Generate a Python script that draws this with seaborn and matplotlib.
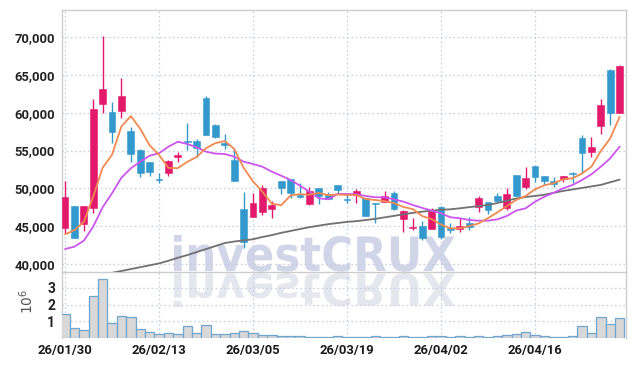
import numpy as np
import pandas as pd
import matplotlib
matplotlib.use("Agg")
import matplotlib.pyplot as plt
import seaborn as sns
from matplotlib.textpath import TextPath
from matplotlib.patches import PathPatch
from matplotlib.font_manager import FontProperties
from matplotlib.transforms import Affine2D, IdentityTransform
from matplotlib.ticker import FuncFormatter

# ---------------- data ----------------
dates = ["26/01/30",
         "26/02/02", "26/02/03", "26/02/04", "26/02/05", "26/02/06",
         "26/02/09", "26/02/10", "26/02/11", "26/02/12", "26/02/13",
         "26/02/19", "26/02/20", "26/02/23", "26/02/24", "26/02/25",
         "26/02/26", "26/02/27", "26/03/03", "26/03/04", "26/03/05",
         "26/03/06", "26/03/09", "26/03/10", "26/03/11", "26/03/12",
         "26/03/13", "26/03/16", "26/03/17", "26/03/18", "26/03/19",
         "26/03/20", "26/03/23", "26/03/24", "26/03/25", "26/03/26",
         "26/03/27", "26/03/30", "26/03/31", "26/04/01", "26/04/02",
         "26/04/03", "26/04/06", "26/04/07", "26/04/08", "26/04/09",
         "26/04/10", "26/04/13", "26/04/14", "26/04/15", "26/04/16",
         "26/04/17", "26/04/20", "26/04/21", "26/04/22", "26/04/23",
         "26/04/24", "26/04/27", "26/04/28", "26/04/29"]

open_ = [44700, 47660, 45230, 47430, 61170, 60070, 60280, 57590, 55070, 53440,
         51300, 51990, 54200, 56300, 56270, 61960, 58380, 56000, 53750, 47260,
         46240, 46900, 47220, 50970, 51230, 49150, 47960, 50000, 49210, 50440,
         48600, 49070, 48680, 48050, 48230, 49340, 45890, 44850, 45010, 44650,
         47480, 44780, 44570, 45440, 47560, 48230, 48980, 47350, 51760, 50210,
         52950, 51630, 50970, 51190, 52030, 56620, 54850, 58290, 65670, 60010]
high = [50970, 47700, 47700, 61790, 70170, 61390, 64570, 58120, 55250, 53440,
        51990, 53700, 54850, 58690, 56490, 62190, 58470, 57150, 55380, 49470,
        49420, 50440, 48360, 50970, 51230, 50700, 50210, 50000, 49550, 50440,
        49420, 49950, 48680, 48100, 49680, 49640, 47130, 46030, 45670, 47350,
        47660, 45360, 46110, 46240, 48980, 48230, 49420, 50080, 51760, 52780,
        52950, 51630, 51540, 51630, 52160, 57100, 56840, 61870, 65760, 66290]
low = [44080, 43380, 44400, 46690, 59930, 55960, 59270, 53440, 51460, 51630,
       50740, 51670, 53520, 55070, 54190, 57060, 56620, 55210, 51010, 42050,
       46240, 46460, 46070, 49210, 48680, 48720, 47750, 47920, 48580, 49420,
       48010, 48010, 46330, 45360, 48230, 47130, 44250, 44480, 43150, 44650,
       43250, 44040, 44170, 44480, 46820, 46600, 48280, 47130, 48980, 49870,
       50870, 50440, 50210, 50830, 50740, 52070, 54150, 57190, 58340, 60010]
close = [48890, 43460, 47660, 60460, 63110, 57500, 62230, 54540, 52070, 52120,
         51200, 53580, 54400, 56200, 55380, 57060, 56840, 55800, 51010, 42850,
         48090, 50000, 47790, 50080, 49340, 48890, 49640, 49020, 48580, 49780,
         48540, 49600, 46330, 48010, 49020, 47220, 46990, 44980, 43380, 47050,
         43590, 44480, 45010, 44920, 48720, 47130, 48280, 49210, 48980, 51330,
         51540, 50970, 50610, 51590, 51930, 54720, 55470, 60990, 59930, 66200]

ma_short = [43900, 44450, 45550, 48900, 52720, 54440, 58190, 59570, 57890, 55690,
            54430, 52700, 52670, 53500, 54150, 55320, 55980, 56260, 55220, 52710,
            50920, 49550, 47950, 47760, 49060, 49220, 49150, 49390, 49090, 49180,
            49110, 49110, 48570, 48450, 48300, 48040, 47520, 47250, 46320, 45920,
            45200, 44690, 44700, 45010, 45340, 46050, 46810, 47650, 48460, 48980,
            49870, 50400, 50680, 51210, 51330, 51960, 52860, 54940, 56610, 59460]
ma_mid = [41960, 42270, 43060, 44920, 47480, 49340, 51400, 52650, 53520, 54320,
          54640, 55510, 56170, 55870, 55430, 54850, 54600, 54540, 54190, 53520,
          53220, 52860, 52200, 51670, 51100, 50340, 49550, 48680, 48540, 49250,
          49250, 49210, 48980, 48810, 48810, 48540, 48230, 47790, 47400, 47050,
          46690, 46160, 46030, 45800, 45710, 45710, 45890, 46330, 47050, 47350,
          48230, 48890, 49420, 50000, 50440, 51100, 51860, 52860, 53970, 55510]
ma_long = [np.nan] * 5 + [
          38800, 39050, 39300, 39550, 39800, 40050, 40400, 40800, 41150, 41550,
          41950, 42350, 42750, 42950, 43100, 43250, 43550, 43800, 44100, 44350,
          44600, 44850, 45050, 45250, 45400, 45550, 45650, 45800, 45950, 46150,
          46350, 46550, 46750, 46900, 47050, 47150, 47220, 47350, 47500, 47650,
          47780, 48050, 48350, 48650, 48850, 48980, 49150, 49400, 49650, 49850,
          50050, 50250, 50450, 50800, 51150]

volume_m = [1.44, 0.58, 0.48, 2.51, 3.53, 0.90, 1.32, 1.23, 0.52, 0.36,
            0.24, 0.30, 0.24, 0.72, 0.30, 0.78, 0.24, 0.24, 0.30, 0.42,
            0.30, 0.18, 0.18, 0.12, 0.12, 0.12, 0.08, 0.06, 0.06, 0.12,
            0.06, 0.06, 0.06, 0.12, 0.06, 0.06, 0.12, 0.06, 0.06, 0.10,
            0.12, 0.06, 0.12, 0.06, 0.12, 0.08, 0.12, 0.18, 0.24, 0.36,
            0.18, 0.12, 0.06, 0.06, 0.12, 0.72, 0.30, 1.23, 0.86, 1.20]

price_ticks = [40000, 45000, 50000, 55000, 60000, 65000, 70000]
volume_ticks = [1, 2, 3]
label_every = 10

n = len(dates)
for arr in (open_, high, low, close, ma_short, ma_mid, ma_long, volume_m):
    assert len(arr) == n

df = pd.DataFrame({"idx": np.arange(n), "date": dates, "open": open_, "high": high,
                   "low": low, "close": close, "ma_s": ma_short, "ma_m": ma_mid,
                   "ma_l": ma_long, "vol": volume_m})

# ---------------- style ----------------
sns.set_style("white")
TICK_FONT = ["Roboto", "DejaVu Sans"]
plt.rcParams["font.family"] = TICK_FONT

UP = "#e3196b"
DOWN = "#3399cc"
GRID = "#c7cbe0"
FRAME = "#cccccc"
TICK_SIZE = 9.4

W, H = 634, 366
fig = plt.figure(figsize=(W / 100, H / 100), dpi=100)
fig.patch.set_facecolor("white")

L, R = 62, 626
P_TOP, P_BOT = 9.5, 272
V_BOT = 338
axp = fig.add_axes([L / W, 1 - P_BOT / H, (R - L) / W, (P_BOT - P_TOP) / H])
axv = fig.add_axes([L / W, 1 - V_BOT / H, (R - L) / W, (V_BOT - P_BOT) / H], sharex=axp)
for ax in (axp, axv):
    ax.set_facecolor("none")

# ---------------- watermark (behind everything) ----------------
fp = FontProperties(family="DejaVu Sans", weight="bold")
tp = TextPath((0, 0), "investCRUX", size=100, prop=fp)
ext = tp.get_extents()
x0_px, x1_px = 174, 455
top_px, base_px = 235, 271.7
sx = (x1_px - x0_px) / ext.width
sy = (base_px - top_px) / ext.height
main_tr = Affine2D().translate(-ext.x0, -ext.y0).scale(sx, sy).translate(x0_px, H - base_px)
refl_tr = Affine2D().translate(-ext.x0, -ext.y0).scale(sx, -sy * 0.93).translate(x0_px, H - 273)
for tr, col in ((main_tr, "#d0d6e8"), (refl_tr, "#e5e7ef")):
    patch = PathPatch(tr.transform_path(tp), facecolor=col, edgecolor="none",
                      transform=IdentityTransform(), zorder=-5)
    fig.add_artist(patch)

# ---------------- price panel ----------------
up = df["close"] >= df["open"]
colors = np.where(up, UP, DOWN)
axp.vlines(df["idx"], df["low"], df["high"], colors=colors, linewidth=1.0, zorder=3)
body_bottom = np.minimum(df["open"], df["close"])
body_h = np.maximum(np.abs(df["close"] - df["open"]), 140)
axp.bar(df["idx"], body_h, bottom=body_bottom - np.where(body_h == 140, 70, 0),
        width=0.74, color=colors, edgecolor=colors, linewidth=0.4, zorder=4)

sns.lineplot(data=df, x="idx", y="ma_l", ax=axp, color="#707070", linewidth=1.3, zorder=5)
sns.lineplot(data=df, x="idx", y="ma_m", ax=axp, color="#cc55ee", linewidth=1.3, zorder=5)
sns.lineplot(data=df, x="idx", y="ma_s", ax=axp, color="#f08a50", linewidth=1.3, zorder=6)

axp.set_ylim(38913, 73682)
axp.set_yticks(price_ticks)
axp.yaxis.set_major_formatter(FuncFormatter(lambda v, p: f"{int(v):,}"))
axp.set_xlabel("")
axp.set_ylabel("")
axp.grid(True, color=GRID, linestyle=(0, (1.2, 2.2)), linewidth=0.9)
axp.set_axisbelow(True)
axp.tick_params(axis="y", length=0, pad=5, labelsize=TICK_SIZE, labelcolor="#222222")
axp.tick_params(axis="x", length=0, labelbottom=False)
for lab in axp.get_yticklabels():
    lab.set_fontweight("bold")

# ---------------- volume panel ----------------
sns.barplot(data=df, x="idx", y="vol", ax=axv, native_scale=True, width=1.0,
            color="#d8d8d8", edgecolor="#6fa6cf", linewidth=0.9, saturation=1,
            errorbar=None, zorder=3)
axv.set_ylim(0, 3.95)
axv.set_yticks(volume_ticks)
axv.yaxis.set_major_formatter(FuncFormatter(lambda v, p: f"{int(v)}"))
axv.set_ylabel(r"$10^{6}$", fontsize=10, color="#555555", family="DejaVu Sans")
axv.yaxis.set_label_coords(-(L - 36) / (R - L), 0.55)
axv.set_xlabel("")
axv.grid(True, color=GRID, linestyle=(0, (1.2, 2.2)), linewidth=0.9)
axv.set_axisbelow(True)
axv.tick_params(axis="y", length=0, pad=5, labelsize=TICK_SIZE + 0.5, labelcolor="#222222")
axv.tick_params(axis="x", length=0, pad=4, labelsize=TICK_SIZE, labelcolor="#1a1a1a")

tick_pos = list(range(0, n, label_every))
axv.set_xticks(tick_pos)
axv.set_xticklabels([dates[i] for i in tick_pos])
axv.set_xlim(-0.32, 59.68)
for lab in axv.get_yticklabels() + axv.get_xticklabels():
    lab.set_fontweight("bold")

# ---------------- frame ----------------
for sp in ("top", "left", "right", "bottom"):
    axp.spines[sp].set_color(FRAME)
    axp.spines[sp].set_linewidth(1.0)
    axp.spines[sp].set_visible(True)
for sp in ("left", "right"):
    axv.spines[sp].set_color(FRAME)
    axv.spines[sp].set_linewidth(1.0)
    axv.spines[sp].set_visible(True)
axv.spines["top"].set_visible(False)
axv.spines["bottom"].set_visible(False)

fig.savefig("out.png", dpi=100)
